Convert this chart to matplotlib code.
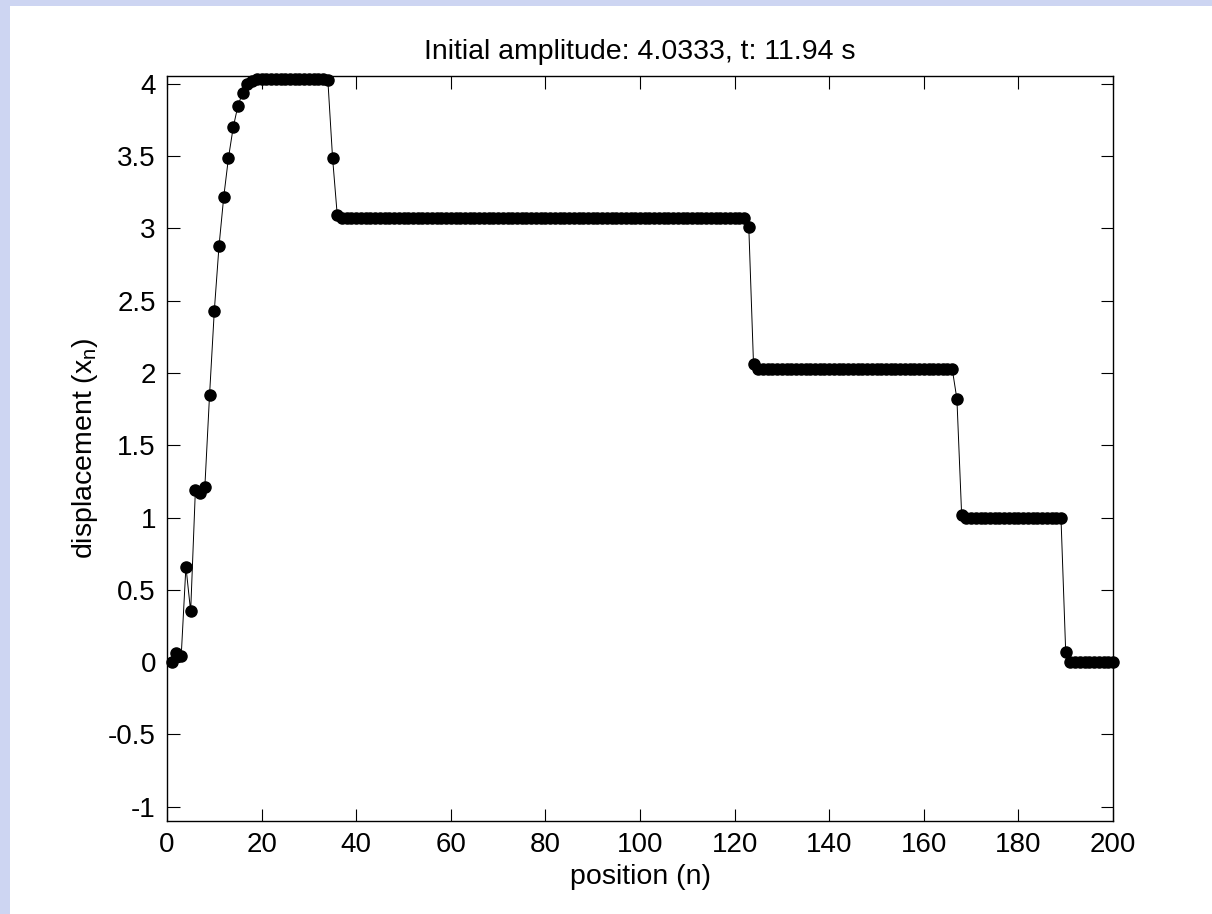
import matplotlib
matplotlib.use("Agg")
import matplotlib.pyplot as plt
from matplotlib.patches import Rectangle
import numpy as np

plt.rcParams['font.family'] = ['Liberation Sans', 'DejaVu Sans']
plt.rcParams['mathtext.fontset'] = 'custom'
plt.rcParams['mathtext.rm'] = 'Liberation Sans'
plt.rcParams['mathtext.it'] = 'Liberation Sans'

# data
head = [0.0, 0.06, 0.04, 0.66, 0.35, 1.19, 1.17, 1.21, 1.85, 2.43,
        2.88, 3.22, 3.49, 3.70, 3.85, 3.94, 4.00, 4.02]
plateau1 = [4.0333] * 15            # n = 19..33
trans1 = [4.03, 3.49, 3.09]         # n = 34..36
plateau2 = [3.07] * 86              # n = 37..122
trans2 = [3.01, 2.06]               # n = 123..124
plateau3 = [2.03] * 42              # n = 125..166
trans3 = [1.82, 1.02]               # n = 167..168
plateau4 = [1.00] * 21              # n = 169..189
trans4 = [0.07]                     # n = 190
plateau5 = [0.0] * 10               # n = 191..200
displacement = head + plateau1 + trans1 + plateau2 + trans2 + plateau3 + trans3 + plateau4 + trans4 + plateau5
position = list(range(1, len(displacement) + 1))

xticks = [0, 20, 40, 60, 80, 100, 120, 140, 160, 180, 200]
yticks = [-1, -0.5, 0, 0.5, 1, 1.5, 2, 2.5, 3, 3.5, 4]
yticklabels = ['-1', '-0.5', '0', '0.5', '1', '1.5', '2', '2.5', '3', '3.5', '4']

fig = plt.figure(figsize=(12.12, 9.14), dpi=100)
fig.patch.set_facecolor('#cdd5f2')
fig.patches.append(Rectangle((10 / 1212, 0), 1 - 10 / 1212, 1 - 6 / 914,
                             transform=fig.transFigure, facecolor='white',
                             edgecolor='none', zorder=-10))

ax = fig.add_axes([167 / 1212, (914 - 821) / 914, 946 / 1212, 745 / 914])
ax.plot(position, displacement, color='black', linewidth=0.7,
        marker='o', markersize=8, markerfacecolor='black',
        markeredgecolor='black', clip_on=False)

ax.set_xlim(0, 200)
ax.set_ylim(-1.1, 4.055)
ax.set_xticks(xticks)
ax.set_yticks(yticks)
ax.set_yticklabels(yticklabels)
ax.tick_params(direction='in', length=9, width=0.8, top=True, right=True,
               labelsize=20, pad=8)
for s in ax.spines.values():
    s.set_linewidth(1.0)

ax.set_title('Initial amplitude: 4.0333, t: 11.94 s', fontsize=20.5, pad=12)
ax.set_xlabel('position (n)', fontsize=20.5, labelpad=4)
ax.set_ylabel('displacement (x$_\\mathregular{n}$)', fontsize=20.5, labelpad=6)

fig.savefig('out.png', dpi=100)
